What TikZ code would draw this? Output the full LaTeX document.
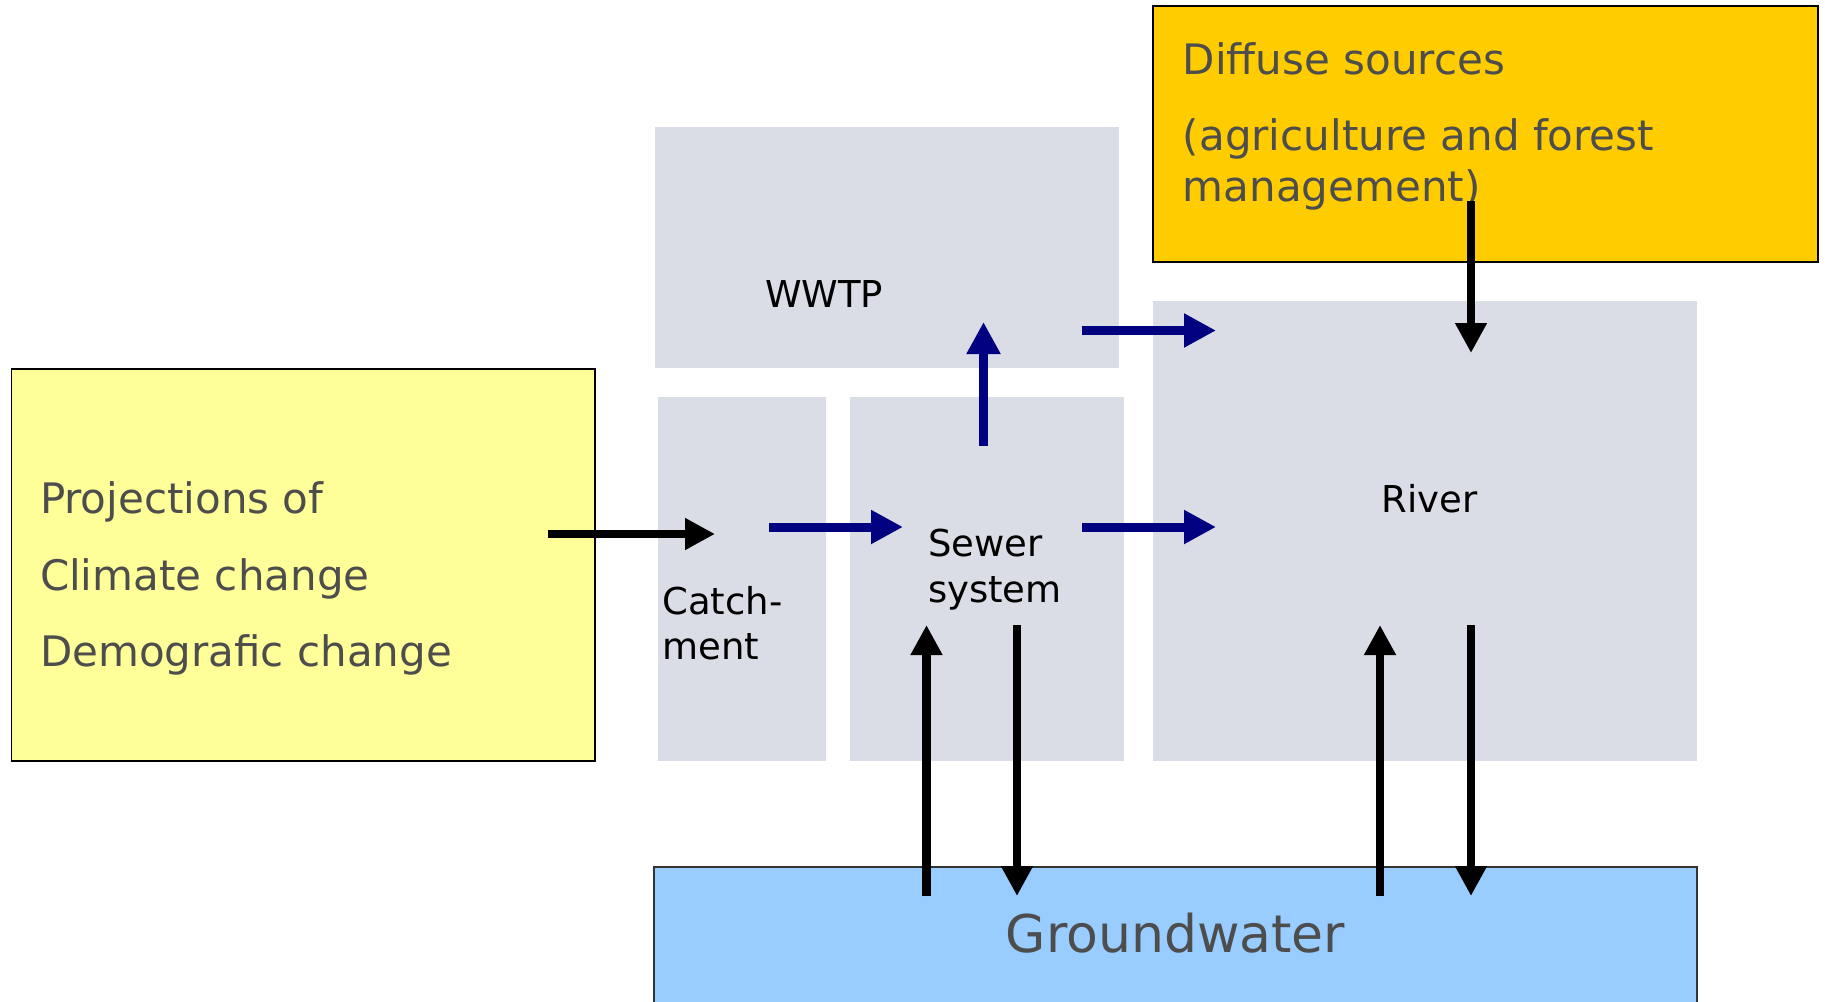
\documentclass[tikz,border=0pt]{standalone}
\usepackage{fontspec}
\setmainfont{DejaVu Sans}
\usetikzlibrary{arrows.meta}
\definecolor{boxgray}{HTML}{DADDE6}
\definecolor{lightyel}{HTML}{FFFF99}
\definecolor{goldbox}{HTML}{FFCC00}
\definecolor{skyblue}{HTML}{99CCFF}
\definecolor{navyblue}{HTML}{000080}
\definecolor{textgray}{HTML}{4D4D4D}
\begin{document}
\begin{tikzpicture}[x=0.5pt,y=-0.5pt,
  box/.style={inner sep=0pt, outer sep=0pt, rectangle},
  graybox/.style={box, fill=boxgray},
  bigtxt/.style={inner sep=0pt, anchor=base west, text=textgray, font=\fontsize{21pt}{26pt}\selectfont},
  smalltxt/.style={inner sep=0pt, anchor=base west, text=black, font=\fontsize{18.5pt}{22pt}\selectfont},
  blkarrow/.style={line width=4.2pt, draw=black, -{Triangle[length=15pt,width=15pt]}},
  navyarrow/.style={line width=4.5pt, draw=navyblue, -{Triangle[length=16pt,width=16pt]}}
]
\useasboundingbox (0,0) rectangle (1825,1001);
\fill[white] (0,0) rectangle (1825,1001);

% boxes
\node[box, fill=lightyel, draw=black, line width=0.8pt, minimum width=291.6pt, minimum height=196pt] (proj) at (303.2,565) {};
\node[box, fill=goldbox, draw=black, line width=0.8pt, minimum width=332.5pt, minimum height=128pt] (diffuse) at (1485.5,134) {};
\node[graybox, minimum width=231.75pt, minimum height=120.5pt] (wwtp) at (886.8,247.5) {};
\node[graybox, minimum width=84.4pt, minimum height=182pt] (catch) at (742,579) {};
\node[graybox, minimum width=137.2pt, minimum height=182pt] (sewer) at (986.8,579) {};
\node[graybox, minimum width=272pt, minimum height=230pt] (river) at (1425,531) {};
\node[box, fill=skyblue, draw=black!80, line width=0.8pt, minimum width=521.5pt, minimum height=70pt] (ground) at (1175.5,937) {};

% texts
\node[bigtxt] (p1) at (39.6,513) {Projections of};
\node[bigtxt] (p2) at (39.6,590) {Climate change};
\node[bigtxt] (p3) at (39.6,666) {Demografic change};
\node[bigtxt] (d1) at (1182.5,74.5) {Diffuse sources};
\node[bigtxt] (d2) at (1182.5,150) {(agriculture and forest};
\node[bigtxt] (d3) at (1182.5,201) {management)};
\node[inner sep=0pt, anchor=base, text=textgray, font=\fontsize{26pt}{30pt}\selectfont] (gw) at (1175.5,952) {Groundwater};
\node[smalltxt] (tw) at (764.7,307) {WWTP};
\node[smalltxt] (ts1) at (927.6,556) {Sewer};
\node[smalltxt] (ts2) at (927.6,602) {system};
\node[smalltxt] (tc1) at (662,614.5) {Catch-};
\node[smalltxt] (tc2) at (662,659) {ment};
\node[smalltxt] (tr) at (1381.5,512) {River};

% arrow end points
\coordinate (a1s) at (548,534);   \coordinate (a1e) at (715,534);
\coordinate (n1s) at (769,527);   \coordinate (n1e) at (903,527);
\coordinate (n2s) at (983.5,446); \coordinate (n2e) at (983.5,322);
\coordinate (n3s) at (1082,330.5);\coordinate (n3e) at (1216,330.5);
\coordinate (n4s) at (1082,527);  \coordinate (n4e) at (1216,527);
\coordinate (b1s) at (1471,201);  \coordinate (b1e) at (1471,353);
\coordinate (g1s) at (926.5,896); \coordinate (g1e) at (926.5,625);
\coordinate (g2s) at (1017,625);  \coordinate (g2e) at (1017,896);
\coordinate (g3s) at (1380,896);  \coordinate (g3e) at (1380,625);
\coordinate (g4s) at (1471,625);  \coordinate (g4e) at (1471,896);

% arrows
\draw[blkarrow] (a1s) -- (a1e);
\draw[navyarrow] (n1s) -- (n1e);
\draw[navyarrow] (n2s) -- (n2e);
\draw[navyarrow] (n3s) -- (n3e);
\draw[navyarrow] (n4s) -- (n4e);
\draw[blkarrow] (b1s) -- (b1e);
\draw[blkarrow] (g1s) -- (g1e);
\draw[blkarrow] (g2s) -- (g2e);
\draw[blkarrow] (g3s) -- (g3e);
\draw[blkarrow] (g4s) -- (g4e);
\end{tikzpicture}
\end{document}
